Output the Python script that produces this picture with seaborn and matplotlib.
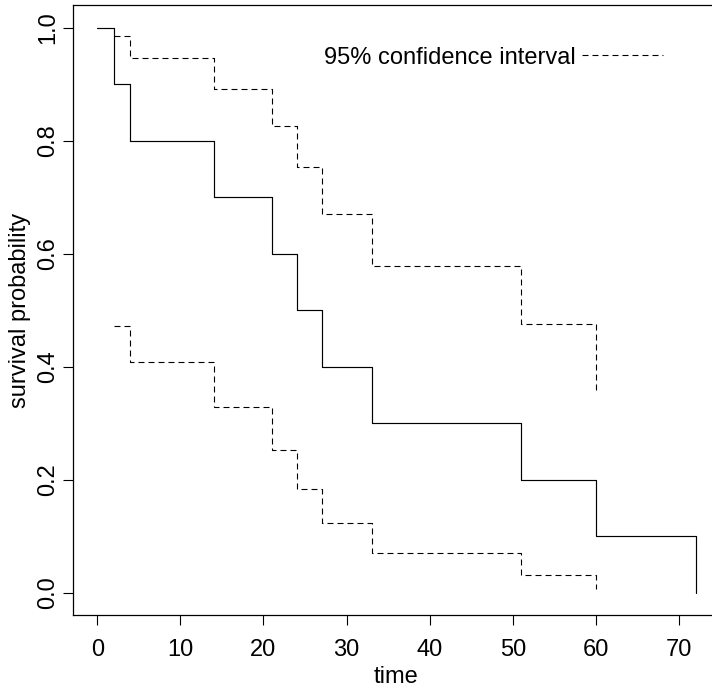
import matplotlib
matplotlib.use("Agg")
import matplotlib.pyplot as plt
import seaborn as sns
import pandas as pd

# Kaplan-Meier estimate
times = [0, 2, 4, 14, 21, 24, 27, 33, 51, 60, 72, 72]
surv = [1.0, 0.9, 0.8, 0.7, 0.6, 0.5, 0.4, 0.3, 0.2, 0.1, 0.1, 0.0]
# 95% confidence interval (log-log)
ci_times = [2, 4, 14, 21, 24, 27, 33, 51, 60]
ci_upper = [0.985, 0.946, 0.892, 0.827, 0.753, 0.670, 0.578, 0.475, 0.358]
ci_lower = [0.473, 0.409, 0.329, 0.253, 0.184, 0.123, 0.071, 0.031, 0.006]

x_ticks = [0, 10, 20, 30, 40, 50, 60, 70]
y_ticks = [0.0, 0.2, 0.4, 0.6, 0.8, 1.0]
y_ticklabels = ["0.0", "0.2", "0.4", "0.6", "0.8", "1.0"]
legend_label = "95% confidence interval"

sns.set_theme(style="ticks")
plt.rcParams["font.family"] = ["Liberation Sans", "DejaVu Sans"]
FS = 17

fig = plt.figure(figsize=(7.12, 6.89), dpi=100)
ax = fig.add_axes([73.3 / 712, 1 - 615.3 / 689, 646.3 / 712, 609.9 / 689])

df_s = pd.DataFrame({"time": times, "surv": surv})
df_u = pd.DataFrame({"time": ci_times, "v": ci_upper})
df_l = pd.DataFrame({"time": ci_times, "v": ci_lower})

dash = (0, (5.4, 3.6))
sns.lineplot(data=df_s, x="time", y="surv", ax=ax, estimator=None, sort=False,
             drawstyle="steps-post", color="black", linewidth=0.85)
sns.lineplot(data=df_u, x="time", y="v", ax=ax, estimator=None, sort=False,
             drawstyle="steps-post", color="black", linewidth=0.8, linestyle=dash)
sns.lineplot(data=df_l, x="time", y="v", ax=ax, estimator=None, sort=False,
             drawstyle="steps-post", color="black", linewidth=0.8, linestyle=dash)

ax.set_xlim(-2.88, 74.88)
ax.set_ylim(-0.04, 1.04)
ax.set_xticks(x_ticks)
ax.set_xticklabels([str(t) for t in x_ticks], fontsize=FS)
ax.set_yticks(y_ticks)
ax.set_yticklabels(y_ticklabels, fontsize=FS, rotation=90, va="center")
ax.tick_params(axis="both", direction="out", length=7.5, width=0.8, color="black",
               labelcolor="black")
ax.tick_params(axis="x", pad=9.5)
ax.tick_params(axis="y", pad=2.5)
ax.set_xlabel("time", fontsize=FS, color="black", labelpad=4)
ax.set_ylabel("survival probability", fontsize=FS, color="black", labelpad=4.5)
for s in ax.spines.values():
    s.set_visible(True)
    s.set_color("black")
    s.set_linewidth(0.9)

# legend (text followed by dashed sample)
ax.text(57.6, 0.947, legend_label, fontsize=FS, ha="right", va="center", color="black")
ax.plot([58.3, 68.1], [0.952, 0.952], color="black", linewidth=0.8, linestyle=dash)

fig.savefig("out.png", dpi=100, facecolor="white")
